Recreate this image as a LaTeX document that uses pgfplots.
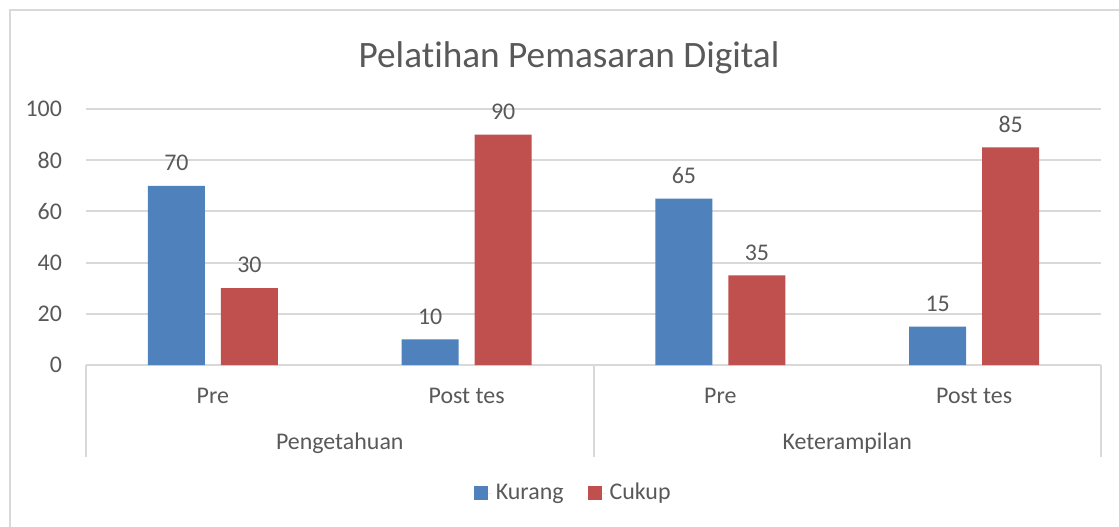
\documentclass[border=0pt]{standalone}
\usepackage{pgfplots}
\pgfplotsset{compat=1.18}
\usepackage{fontspec}
\setmainfont{Carlito}[Ligatures=NoCommon]
\definecolor{cblue}{HTML}{4F81BD}
\definecolor{cred}{HTML}{C0504D}
\definecolor{tgray}{HTML}{595959}
\definecolor{lgray}{HTML}{D9D9D9}
\begin{document}
\begin{tikzpicture}
\useasboundingbox (0bp,0bp) rectangle (559.5bp,263.5bp);
\fill[white] (0bp,0bp) rectangle (559.5bp,263.5bp);
\node[text=tgray,font=\fontsize{18.7}{22}\selectfont,anchor=base] at (284.5bp,229.5bp) {Pelatihan Pemasaran Digital};
\begin{axis}[
  at={(43bp,81bp)}, anchor=south west,
  scale only axis, width=507.5bp, height=128bp,
  ybar=8bp, bar width=28.5bp,
  xmin=0.5, xmax=4.5, ymin=0, ymax=100,
  ytick={0,20,...,100},
  xtick={1,2,3,4}, xticklabels={Pre,Post tes,Pre,Post tes},
  axis x line*=bottom, axis y line*=left,
  x axis line style={lgray,line width=1bp,-},
  y axis line style={draw=none},
  major tick length=0pt,
  ymajorgrids, grid style={lgray,line width=1bp},
  tick label style={text=tgray,font=\fontsize{12}{14}\selectfont},
  yticklabel style={anchor=east,xshift=-8.5bp},
  xticklabel style={anchor=base,yshift=-19bp},
  /pgf/number format/assume math mode=true,
  nodes near coords,
  every node near coord/.append style={text=tgray,font=\fontsize{12}{14}\selectfont,anchor=south,yshift=4bp},
  clip=false,
  legend style={at={(rel axis cs:0.481,-0.5)},anchor=center,draw=none,legend columns=2,
    font=\fontsize{12}{14}\selectfont,text=tgray,
    /tikz/every even column/.append style={column sep=10bp}},
  legend image code/.code={\fill[#1,draw=none] (0bp,-3.5bp) rectangle (7bp,3.5bp);\path (0bp,0bp) -- (9bp,0bp);},
]
\addplot[fill=cblue,draw=none] coordinates {(1,70) (2,10) (3,65) (4,15)};
\addplot[fill=cred,draw=none] coordinates {(1,30) (2,90) (3,35) (4,85)};
\legend{Kurang,Cukup}
\draw[lgray,line width=1bp] (axis cs:0.5,0) -- ([yshift=-46bp]axis cs:0.5,0);
\draw[lgray,line width=1bp] (axis cs:2.5,0) -- ([yshift=-46bp]axis cs:2.5,0);
\draw[lgray,line width=1bp] (axis cs:4.5,0) -- ([yshift=-46bp]axis cs:4.5,0);
\node[text=tgray,font=\fontsize{12}{14}\selectfont,anchor=base,yshift=-42bp] at (axis cs:1.5,0) {Pengetahuan};
\node[text=tgray,font=\fontsize{12}{14}\selectfont,anchor=base,yshift=-42bp] at (axis cs:3.5,0) {Keterampilan};
\end{axis}
\draw[lgray,line width=1.2bp] (5bp,0bp) -- (5bp,258.5bp) -- (559.5bp,258.5bp);
\end{tikzpicture}
\end{document}
